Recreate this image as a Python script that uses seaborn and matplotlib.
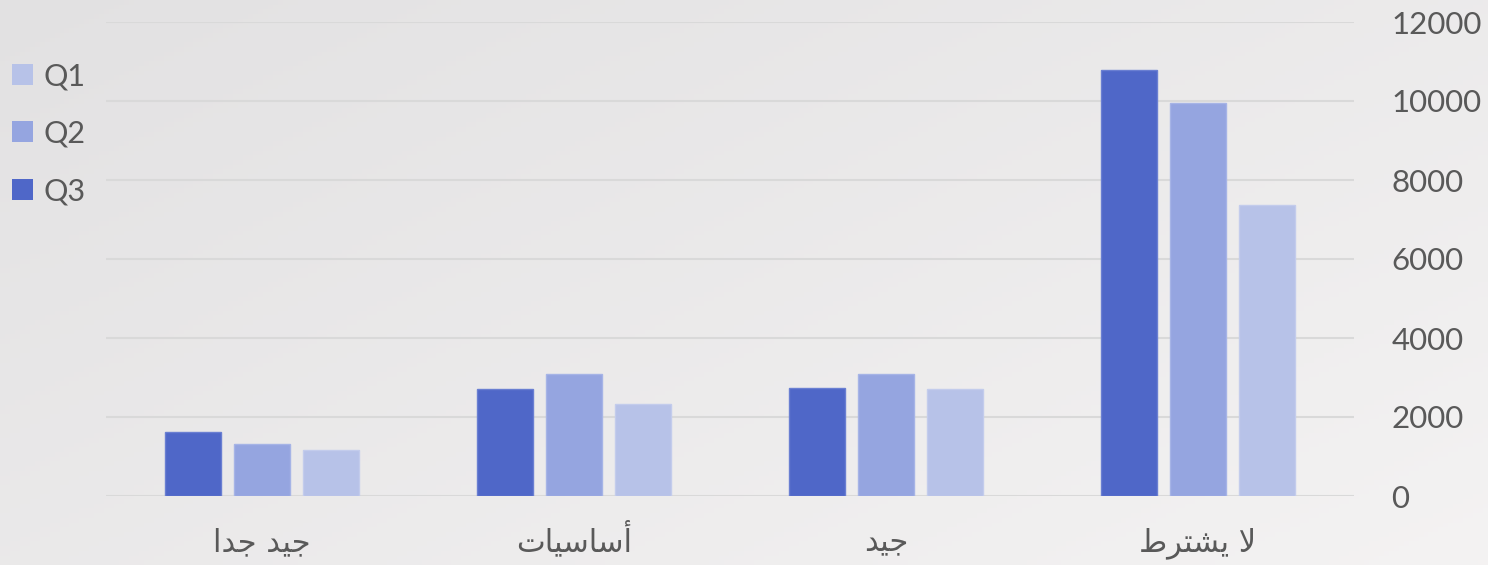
import numpy as np
import pandas as pd
import matplotlib
matplotlib.use("Agg")
import matplotlib.pyplot as plt
from matplotlib.patches import Patch
import seaborn as sns

# ---- data -----------------------------------------------------------------
categories = ["جيد جدا", "أساسيات", "جيد", "لا يشترط"]
q1 = [1165, 2335, 2710, 7375]
q2 = [1310, 3095, 3090, 9945]
q3 = [1610, 2710, 2740, 10780]
series_names = ["Q1", "Q2", "Q3"]
y_ticks = [0, 2000, 4000, 6000, 8000, 10000, 12000]

colors = {"Q1": "#B7C2E8", "Q2": "#95A5E0", "Q3": "#4F67C8"}
edge_colors = {"Q1": "#C3CCEC", "Q2": "#A6B4E6", "Q3": "#6A7FD2"}

# ---- minimal Arabic shaping (presentation forms, visual order) -------------
FORMS = {
    "ا": ("\uFE8D", "\uFE8E", None, None),
    "أ": ("\uFE83", "\uFE84", None, None),
    "ت": ("\uFE95", "\uFE96", "\uFE97", "\uFE98"),
    "ج": ("\uFE9D", "\uFE9E", "\uFE9F", "\uFEA0"),
    "د": ("\uFEA9", "\uFEAA", None, None),
    "ر": ("\uFEAD", "\uFEAE", None, None),
    "س": ("\uFEB1", "\uFEB2", "\uFEB3", "\uFEB4"),
    "ش": ("\uFEB5", "\uFEB6", "\uFEB7", "\uFEB8"),
    "ط": ("\uFEC1", "\uFEC2", "\uFEC3", "\uFEC4"),
    "ل": ("\uFEDD", "\uFEDE", "\uFEDF", "\uFEE0"),
    "ي": ("\uFEF1", "\uFEF2", "\uFEF3", "\uFEF4"),
    "لا": ("\uFEFB", "\uFEFC", None, None),
    "لأ": ("\uFEF7", "\uFEF8", None, None),
}


def shape_word(word):
    tokens = []
    i = 0
    while i < len(word):
        pair = word[i:i + 2]
        if pair in ("لا", "لأ"):
            tokens.append(pair)
            i += 2
        else:
            tokens.append(word[i])
            i += 1
    out = []
    for k, tok in enumerate(tokens):
        iso, fin, ini, med = FORMS.get(tok, (tok, None, None, None))
        prev_joins = k > 0 and FORMS.get(tokens[k - 1], (None,) * 4)[2] is not None
        next_joins = k < len(tokens) - 1 and ini is not None and tokens[k + 1] in FORMS
        if prev_joins and next_joins and med:
            out.append(med)
        elif prev_joins and fin:
            out.append(fin)
        elif next_joins and ini:
            out.append(ini)
        else:
            out.append(iso)
    return "".join(out)


def shape_rtl(text):
    shaped = " ".join(shape_word(w) for w in text.split(" "))
    return shaped[::-1]


# ---- long-form table ------------------------------------------------------
df = pd.DataFrame({
    "category": categories * 3,
    "series": ["Q1"] * 4 + ["Q2"] * 4 + ["Q3"] * 4,
    "value": q1 + q2 + q3,
})

sns.set_theme(style="white")
plt.rcParams["font.family"] = ["Lato", "DejaVu Sans"]

W, H = 1488, 565
fig = plt.figure(figsize=(W / 100, H / 100), dpi=100)

# soft diagonal background gradient
bg = fig.add_axes([0, 0, 1, 1], zorder=-10)
gx, gy = np.meshgrid(np.linspace(0, 1, 300), np.linspace(0, 1, 120))
t = np.clip(0.55 * gx + 0.45 * gy, 0, 1)
c0 = np.array([0.887, 0.883, 0.887])
c1 = np.array([0.957, 0.952, 0.952])
img = c0[None, None, :] * (1 - t[..., None]) + c1[None, None, :] * t[..., None]
bg.imshow(img, aspect="auto", extent=[0, 1, 0, 1], origin="upper")
bg.set_axis_off()

ax = fig.add_axes([106 / W, 1 - 496 / H, (1354 - 106) / W, (496 - 22) / H])
ax.set_facecolor("none")

sns.barplot(
    data=df, x="category", y="value", hue="series",
    order=categories, hue_order=["Q3", "Q2", "Q1"],
    palette=colors, saturation=1, width=0.663, gap=0.2,
    legend=False, ax=ax, errorbar=None,
)
for cont, name in zip(ax.containers, ["Q3", "Q2", "Q1"]):
    for bar in cont:
        bar.set_edgecolor(edge_colors[name])
        bar.set_linewidth(1.0)

ax.set_xlim(-0.5, 3.5)
ax.set_ylim(0, 12000)
ax.set_yticks(y_ticks)
ax.set_yticklabels([str(v) for v in y_ticks])
ax.yaxis.tick_right()
ax.yaxis.grid(True, color="#D9D9D9", linewidth=1.5)
ax.set_axisbelow(True)
for s in ax.spines.values():
    s.set_visible(False)
ax.set_xlabel("")
ax.set_ylabel("")

ax.set_xticks(range(len(categories)))
ax.set_xticklabels([shape_rtl(c) for c in categories],
                   family=["DejaVu Sans"], fontsize=22, color="#595959",
                   va="baseline")
ax.tick_params(axis="x", length=0, pad=40)
ax.tick_params(axis="y", length=0, pad=27, labelsize=22.5, labelcolor="#595959")

handles = [Patch(facecolor=colors[n], edgecolor="none") for n in series_names]
fig.legend(
    handles, series_names, loc="upper left",
    bbox_to_anchor=(12 / W, 1 - 62 / H), frameon=False,
    fontsize=22, handlelength=0.68, handleheight=0.68,
    handletextpad=0.35, labelspacing=0.97, borderpad=0, borderaxespad=0,
    labelcolor="#595959",
)

fig.savefig("out.png", dpi=100)
